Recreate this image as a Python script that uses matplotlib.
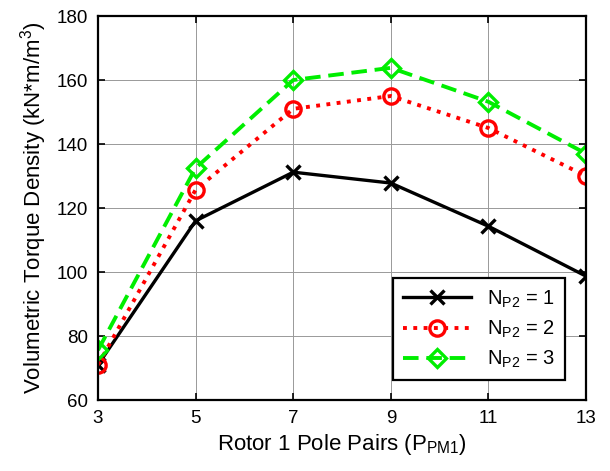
import matplotlib
matplotlib.use("Agg")
from matplotlib import pyplot as plt

plt.rcParams["font.family"] = ["Liberation Sans", "DejaVu Sans"]
plt.rcParams["mathtext.default"] = "regular"

pole_pairs = [3, 5, 7, 9, 11, 13]
np2_1 = [71, 116, 131.2, 127.8, 114.3, 98.7]
np2_2 = [71, 125.7, 151, 155, 145, 130]
np2_3 = [75.6, 132.5, 160, 163.8, 153.2, 137]
yticks = [60, 80, 100, 120, 140, 160, 180]

fig = plt.figure(figsize=(6.1, 4.71), dpi=100)
ax = fig.add_axes([0.1607, 0.1507, 0.80, 0.8153])

ax.plot(pole_pairs, np2_1, color="black", linestyle="-", linewidth=2.4,
        marker="x", markersize=10, markeredgewidth=2.4, label="$N_{P2}$ = 1")
ax.plot(pole_pairs, np2_2, color="red", linestyle=":", linewidth=2.8,
        marker="o", markersize=11, markeredgewidth=2.4, markerfacecolor="none",
        label="$N_{P2}$ = 2")
ax.plot(pole_pairs, np2_3, color="#00ee00", linestyle="--", linewidth=2.8,
        dashes=(4, 2), marker="D", markersize=9.5, markeredgewidth=2.4,
        markerfacecolor="none", label="$N_{P2}$ = 3")

ax.set_xlim(3, 13)
ax.set_ylim(60, 180)
ax.set_xticks(pole_pairs)
ax.set_yticks(yticks)
ax.tick_params(direction="in", top=True, right=True, labelsize=13.5,
               length=5, width=1.2, pad=7)
ax.grid(True, color="#999999", linestyle="-", linewidth=0.7)
for s in ax.spines.values():
    s.set_linewidth(1.6)

ax.set_xlabel("Rotor 1 Pole Pairs ($P_{PM1}$)", fontsize=16)
ax.set_ylabel("Volumetric Torque Density (kN*m/m$^3$)", fontsize=16, labelpad=6)

leg = ax.legend(loc="lower right", bbox_to_anchor=(0.978, 0.025), fontsize=14.5,
                fancybox=False, edgecolor="black", framealpha=1,
                handlelength=3.4, borderpad=0.5, labelspacing=0.45)
leg.get_frame().set_linewidth(1.6)

fig.savefig("out.png", dpi=100)
